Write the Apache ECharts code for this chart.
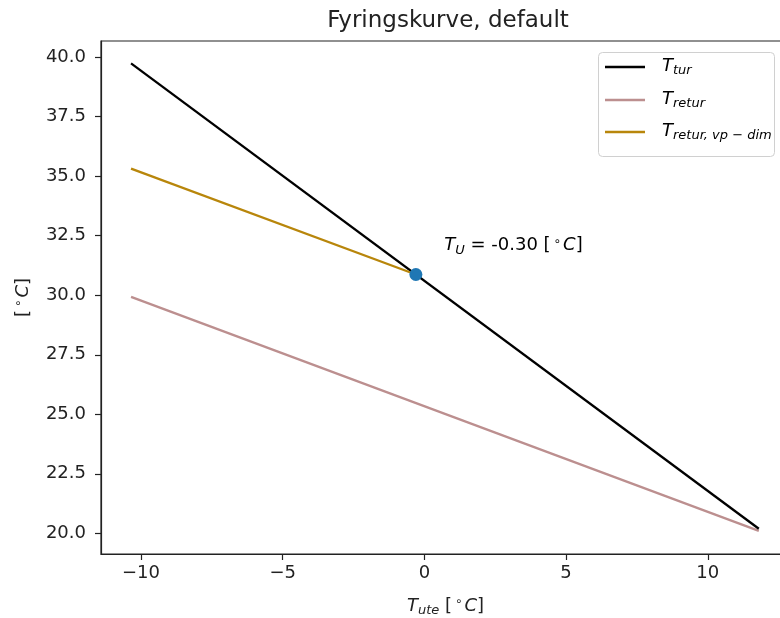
<!DOCTYPE html>
<html>
<head>
<meta charset="utf-8">
<script src="https://cdn.jsdelivr.net/npm/echarts@6/dist/echarts.min.js"></script>
<style>
  html, body { margin: 0; padding: 0; background: #fff; }
  #chart { width: 780px; height: 618px; }
</style>
</head>
<body>
<div id="chart"></div>
<script>
// Heating curve: supply / return temperature against outdoor temperature
const tUte = [-10.35, 11.8];          // outdoor temperature [°C]
const tTur = [39.74, 20.19];          // supply temperature
const tRetur = [29.93, 20.1];         // return temperature
const dimUte = [-10.35, -0.3];        // heat-pump dimensioning range
const tReturVpDim = [35.32, 30.87];   // return temperature, heat-pump dimensioning
const tU = [-0.3];                    // balance point
const tUval = [30.87];
const xTicks = [-10, -5, 0, 5, 10];
const yTicks = [20, 22.5, 25, 27.5, 30, 32.5, 35, 37.5, 40];

const FONT = 'DejaVu Sans';
const INK = '#222';

const mathRich = {
  it: { fontFamily: FONT, fontStyle: 'italic', fontSize: 18, color: INK },
  rm: { fontFamily: FONT, fontSize: 18, color: INK },
  sub: { fontFamily: FONT, fontStyle: 'italic', fontSize: 13, color: INK, padding: [9, 0, 0, 0] },
  sup: { fontFamily: FONT, fontSize: 12, color: INK, padding: [0, 2, 8, 3] }
};

const pairs = (xs, ys) => xs.map((x, i) => [x, ys[i]]);
const fmtX = v => (v < 0 ? '\u2212' + Math.abs(v) : String(v));

const chart = echarts.init(document.getElementById('chart'), null, { renderer: 'canvas' });

chart.setOption({
  animation: false,
  backgroundColor: '#fff',
  title: {
    text: 'Fyringskurve, default',
    left: 443, top: 5, textAlign: 'center',
    textStyle: { fontFamily: FONT, fontSize: 23, fontWeight: 'normal', color: INK }
  },
  grid: {
    left: 101, top: 41, width: 689, height: 513,
    outerBoundsMode: 'none', containLabel: false,
    show: true, borderColor: INK, borderWidth: 1.2, backgroundColor: 'transparent'
  },
  xAxis: {
    type: 'value', min: -11.41, max: 12.9,
    axisLine: { show: true, onZero: false, lineStyle: { color: INK, width: 1.2 } },
    splitLine: { show: false },
    axisTick: { show: true, length: 6, customValues: xTicks, lineStyle: { color: INK, width: 1.2 } },
    axisLabel: { customValues: xTicks, formatter: fmtX, fontFamily: FONT, fontSize: 18, color: INK, margin: 10 },
    name: '{it|T}{sub|ute}{rm| [}{sup|∘}{it|C}{rm|]}',
    nameLocation: 'middle', nameGap: 41,
    nameTextStyle: { rich: mathRich }
  },
  yAxis: {
    type: 'value', min: 19.13, max: 40.68,
    axisLine: { show: true, onZero: false, lineStyle: { color: INK, width: 1.2 } },
    splitLine: { show: false },
    axisTick: { show: true, length: 6, customValues: yTicks, lineStyle: { color: INK, width: 1.2 } },
    axisLabel: { customValues: yTicks, formatter: v => v.toFixed(1), fontFamily: FONT, fontSize: 18, color: INK, margin: 15 },
    name: '{rm|[}{sup|∘}{it|C}{rm|]}',
    nameLocation: 'middle', nameGap: 68, nameRotate: 90,
    nameTextStyle: { rich: mathRich }
  },
  series: [
    {
      type: 'line', name: 'T_tur', data: pairs(tUte, tTur),
      showSymbol: false, lineStyle: { color: '#000', width: 2.3 }, z: 3
    },
    {
      type: 'line', name: 'T_retur', data: pairs(tUte, tRetur),
      showSymbol: false, lineStyle: { color: '#bc8f8f', width: 2.3 }, z: 2
    },
    {
      type: 'line', name: 'T_retur,vp-dim', data: pairs(dimUte, tReturVpDim),
      showSymbol: false, lineStyle: { color: '#b8860b', width: 2.3 }, z: 4
    },
    {
      type: 'scatter', name: 'T_U', data: pairs(tU, tUval),
      symbol: 'circle', symbolSize: 13, itemStyle: { color: '#1f77b4', opacity: 1 }, z: 5
    }
  ]
});

// Annotation next to the balance point, and the legend box
const anchor = chart.convertToPixel({ gridIndex: 0 }, [tU[0] + 1, tUval[0] + 1]);
const legendRows = [
  { color: '#000', text: '{it|T}{sub|tur}', y: 67 },
  { color: '#bc8f8f', text: '{it|T}{sub|retur}', y: 100 },
  { color: '#b8860b', text: '{it|T}{sub|retur, vp − dim}', y: 132 }
];
const legendEls = [
  {
    type: 'rect', shape: { x: 598.5, y: 52.5, width: 176, height: 104, r: 4 },
    style: { fill: 'rgba(255,255,255,0.8)', stroke: '#d0d0d0', lineWidth: 1 }, z: 10
  }
];
legendRows.forEach(r => {
  legendEls.push({
    type: 'line', shape: { x1: 605, y1: r.y, x2: 645, y2: r.y },
    style: { stroke: r.color, lineWidth: 2.3 }, z: 11
  });
  legendEls.push({
    type: 'text', x: 662, y: r.y - 1,
    style: { text: r.text, rich: mathRich, verticalAlign: 'middle', align: 'left' }, z: 11
  });
});

chart.setOption({
  graphic: [
    {
      type: 'text', x: anchor[0], y: anchor[1] + 6,
      style: {
        text: '{it|T}{sub|U}{rm| = -0.30 [}{sup|∘}{it|C}{rm|]}',
        rich: mathRich, align: 'left', verticalAlign: 'bottom'
      }, z: 6
    }
  ].concat(legendEls)
});
</script>
</body>
</html>
